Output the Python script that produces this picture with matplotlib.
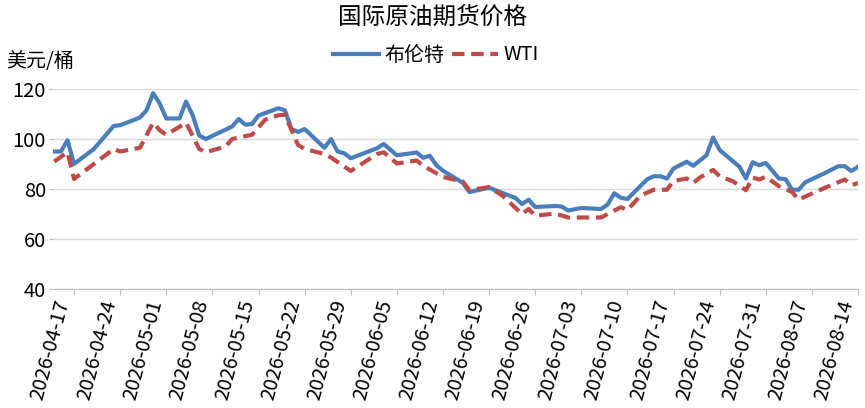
import matplotlib
matplotlib.use("Agg")
import matplotlib.pyplot as plt
import matplotlib.dates as mdates
import pandas as pd

plt.rcParams['font.family'] = ['Noto Sans CJK SC', 'DejaVu Sans']

# 布伦特 (Brent)
brent_dates = ['2026-04-14', '2026-04-15', '2026-04-16', '2026-04-17', '2026-04-20',
               '2026-04-23', '2026-04-24', '2026-04-27', '2026-04-28', '2026-04-29',
               '2026-04-30', '2026-05-01', '2026-05-03', '2026-05-04', '2026-05-05',
               '2026-05-06', '2026-05-07', '2026-05-11', '2026-05-12', '2026-05-13',
               '2026-05-14', '2026-05-15', '2026-05-18', '2026-05-19', '2026-05-20',
               '2026-05-21', '2026-05-22', '2026-05-25', '2026-05-26', '2026-05-27',
               '2026-05-28', '2026-05-29', '2026-06-02', '2026-06-03', '2026-06-05',
               '2026-06-08', '2026-06-09', '2026-06-10', '2026-06-11', '2026-06-12',
               '2026-06-15', '2026-06-16', '2026-06-19', '2026-06-23', '2026-06-24',
               '2026-06-25', '2026-06-26', '2026-06-29', '2026-06-30', '2026-07-01',
               '2026-07-03', '2026-07-06', '2026-07-07', '2026-07-08', '2026-07-09',
               '2026-07-10', '2026-07-13', '2026-07-14', '2026-07-15', '2026-07-16',
               '2026-07-17', '2026-07-19', '2026-07-20', '2026-07-22', '2026-07-23',
               '2026-07-24', '2026-07-27', '2026-07-28', '2026-07-29', '2026-07-30',
               '2026-07-31', '2026-08-02', '2026-08-03', '2026-08-04', '2026-08-05',
               '2026-08-06', '2026-08-09', '2026-08-11', '2026-08-12', '2026-08-13',
               '2026-08-14']
brent = [95, 95, 99.5, 90, 96,
         105.2, 105.5, 108.6, 111.5, 118.3,
         114.2, 108.2, 108.2, 115, 109.5,
         101.4, 100, 105, 108, 105.7,
         106, 109.4, 112.3, 111.5, 104,
         102.8, 104, 96.5, 100, 95,
         94.3, 92.3, 96.3, 98, 93.5,
         94.6, 92.5, 93.3, 89.5, 87.3,
         82.5, 78.8, 80.5, 76.4, 74,
         75.7, 72.8, 73.2, 73, 71.4,
         72.4, 72, 73.8, 78.3, 76.5,
         76, 83.9, 85.1, 85.1, 84.2,
         88.2, 90.9, 89.3, 93.5, 100.6,
         95.6, 88.9, 84.2, 90.7, 89.5,
         90.4, 84.2, 83.9, 79.7, 79.7,
         82.7, 86.4, 89.1, 89.1, 87.2,
         88.9]

# WTI
wti_dates = ['2026-04-14', '2026-04-16', '2026-04-17', '2026-04-23', '2026-04-24',
             '2026-04-27', '2026-04-28', '2026-04-29', '2026-04-30', '2026-05-01',
             '2026-05-04', '2026-05-06', '2026-05-07', '2026-05-10', '2026-05-11',
             '2026-05-14', '2026-05-16', '2026-05-18', '2026-05-19', '2026-05-21',
             '2026-05-22', '2026-05-25', '2026-05-26', '2026-05-29', '2026-06-02',
             '2026-06-03', '2026-06-05', '2026-06-08', '2026-06-09', '2026-06-12',
             '2026-06-15', '2026-06-16', '2026-06-19', '2026-06-21', '2026-06-24',
             '2026-06-25', '2026-06-26', '2026-06-29', '2026-07-01', '2026-07-06',
             '2026-07-07', '2026-07-09', '2026-07-10', '2026-07-12', '2026-07-14',
             '2026-07-16', '2026-07-17', '2026-07-19', '2026-07-20', '2026-07-21',
             '2026-07-23', '2026-07-24', '2026-07-26', '2026-07-28', '2026-07-29',
             '2026-07-30', '2026-07-31', '2026-08-02', '2026-08-04', '2026-08-05',
             '2026-08-06', '2026-08-09', '2026-08-12', '2026-08-13', '2026-08-14']
wti = [91, 94.7, 84, 96, 95,
       96.5, 101.5, 106.5, 103.5, 101.7,
       106.5, 96, 94.7, 97, 100,
       101.7, 107.7, 109.5, 109.7, 97.6,
       96, 94, 92.6, 87.2, 94,
       94.7, 90.2, 91.4, 89.3, 84.8,
       83, 79.5, 80.8, 77.4, 70,
       72, 69.3, 70.2, 68.6, 68.6,
       70, 72.7, 71.6, 77.4, 79.7,
       79.7, 83.2, 84.2, 82.4, 84.6,
       87.6, 85.1, 83.1, 79.5, 84.6,
       83.8, 84.9, 81.1, 78.8, 75.7,
       77, 80.5, 83.8, 81.5, 82.4]

tick_dates = pd.date_range('2026-04-17', '2026-08-14', freq='7D')
yticks = [40, 60, 80, 100, 120]

fig = plt.figure(figsize=(8.65, 4.08), dpi=100)
ax = fig.add_axes([53 / 865, 1 - 289 / 408, 805 / 865, 200 / 408])

ax.plot(pd.to_datetime(brent_dates), brent, color='#4A7EBB', lw=3, label='布伦特',
        solid_joinstyle='round')
ax.plot(pd.to_datetime(wti_dates), wti, color='#BE4B48', lw=3, ls=(0, (3, 1.6)),
        label='WTI')

ax.set_ylim(40, 120)
ax.set_yticks(yticks)
ax.set_xlim(tick_dates[0] - pd.Timedelta(days=3.2), tick_dates[-1])
ax.set_xticks(tick_dates)
ax.xaxis.set_major_formatter(mdates.DateFormatter('%Y-%m-%d'))
for lab in ax.get_xticklabels():
    lab.set_rotation(75)
    lab.set_ha('right')

ax.grid(axis='y', color='#D9D9D9', lw=1)
ax.set_axisbelow(True)
for s in ['top', 'right', 'left']:
    ax.spines[s].set_visible(False)
ax.spines['bottom'].set_color('#BFBFBF')
ax.tick_params(axis='x', colors='#BFBFBF', length=4, labelcolor='black', labelsize=14.5, pad=2)
ax.tick_params(axis='y', colors='#BFBFBF', length=3, labelcolor='black', labelsize=14.5, pad=2)

fig.text(0.5, 1 - 17 / 408, '国际原油期货价格', ha='center', va='center', fontsize=17)
fig.text(6 / 865, 1 - 62 / 408, '美元/桶', ha='left', va='center', fontsize=14.4)
fig.legend(loc='center', bbox_to_anchor=(436 / 865, 1 - 55 / 408), ncol=2, frameon=False,
           fontsize=14.4, handlelength=2.3, columnspacing=0.4, handletextpad=0.25)

fig.savefig('out.png', dpi=100)
